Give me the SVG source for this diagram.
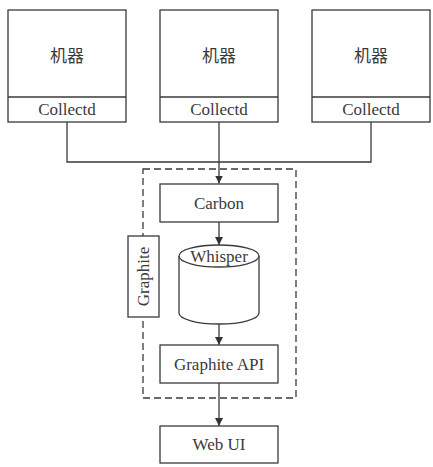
<svg xmlns="http://www.w3.org/2000/svg" width="433" height="467" viewBox="0 0 433 467">
<defs>
<style>
.b{fill:#fff;stroke:#3a3a3a;stroke-width:1.3}
.t{font-family:"Liberation Serif","Noto Sans CJK SC",serif;font-size:17px;fill:#3a3a3a;text-anchor:middle}
.c{font-family:"Noto Sans CJK SC",sans-serif;font-size:17px;fill:#3a3a3a;text-anchor:middle}
.l{fill:none;stroke:#3a3a3a;stroke-width:1.3}
</style>
<marker id="a" viewBox="0 0 10 10" refX="10" refY="5" markerWidth="8" markerHeight="8" orient="auto" markerUnits="userSpaceOnUse">
<path d="M0,0 L10,5 L0,10 z" fill="#333"/>
</marker>
</defs>
<rect width="433" height="467" fill="#fff"/>
<g id="connectors">
<path class="l" d="M67,122 V162 H371 V122"/>
<path class="l" d="M219,122 V183.5" marker-end="url(#a)"/>
<path class="l" d="M219,222 V245" marker-end="url(#a)"/>
<path class="l" d="M219,324 V345" marker-end="url(#a)"/>
<path class="l" d="M219,383 V426" marker-end="url(#a)"/>
</g>
<g id="graphite-group">
<rect x="143" y="169" width="153" height="229" fill="none" stroke="#3a3a3a" stroke-width="1.3" stroke-dasharray="7,4"/>
</g>
<g id="machine1">
<rect class="b" x="8" y="10" width="118" height="112"/>
<line class="l" x1="8" y1="97" x2="126" y2="97"/>
<text class="c" x="67" y="62">机器</text>
<text class="t" x="67" y="115">Collectd</text>
</g>
<g id="machine2">
<rect class="b" x="160" y="10" width="118" height="112"/>
<line class="l" x1="160" y1="97" x2="278" y2="97"/>
<text class="c" x="219" y="62">机器</text>
<text class="t" x="219" y="115">Collectd</text>
</g>
<g id="machine3">
<rect class="b" x="312" y="10" width="118" height="112"/>
<line class="l" x1="312" y1="97" x2="430" y2="97"/>
<text class="c" x="371" y="62">机器</text>
<text class="t" x="371" y="115">Collectd</text>
</g>
<g id="carbon">
<rect class="b" x="160" y="184" width="118" height="38"/>
<text class="t" x="219" y="209">Carbon</text>
</g>
<g id="whisper">
<path class="b" d="M179,256 V313 A40,11 0 0 0 259,313 V256"/>
<ellipse class="b" cx="219" cy="256" rx="40" ry="11"/>
<text class="t" x="219" y="262">Whisper</text>
</g>
<g id="graphite-label">
<rect class="b" x="128" y="236" width="31" height="81"/>
<text class="t" transform="translate(149,276.5) rotate(-90)" x="0" y="0">Graphite</text>
</g>
<g id="graphite-api">
<rect class="b" x="160" y="345" width="118" height="38"/>
<text class="t" x="219" y="370">Graphite API</text>
</g>
<g id="webui">
<rect class="b" x="160" y="426" width="118" height="37"/>
<text class="t" x="219" y="450">Web UI</text>
</g>
</svg>
